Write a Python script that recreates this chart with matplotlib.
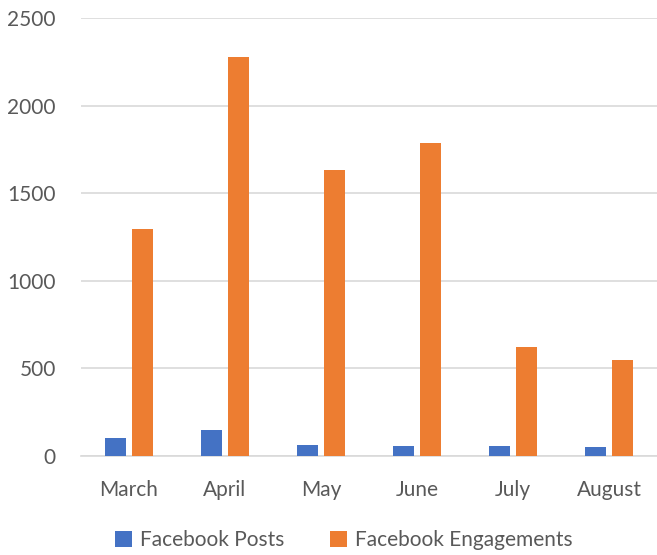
import matplotlib
matplotlib.use("Agg")
import matplotlib.pyplot as plt
import numpy as np

months = ["March", "April", "May", "June", "July", "August"]
posts = [100, 150, 63, 55, 55, 49]
engagements = [1295, 2275, 1634, 1785, 625, 549]
yticks = [0, 500, 1000, 1500, 2000, 2500]

plt.rcParams['font.family'] = ['Lato', 'DejaVu Sans']
text_color = "#595959"

fig = plt.figure(figsize=(6.57, 5.55), dpi=100)
ax = fig.add_axes([81/657, 1 - 456/555, 576/657, (456-18)/555])

x = np.arange(len(months))
w = 0.22
off = 0.14
ax.bar(x - off, posts, width=w, color="#4472C4", label="Facebook Posts", zorder=3)
ax.bar(x + off, engagements, width=w, color="#ED7D31", label="Facebook Engagements", zorder=3)

ax.set_xlim(-0.5, len(months) - 0.5)
ax.set_ylim(0, 2500)
ax.set_yticks(yticks)
ax.set_yticklabels([str(v) for v in yticks])
ax.set_xticks(x)
ax.set_xticklabels(months)
ax.yaxis.grid(True, color="#D9D9D9", linewidth=1.2, zorder=0)
ax.set_axisbelow(True)
for s in ["top", "right", "left"]:
    ax.spines[s].set_visible(False)
ax.spines["bottom"].set_color("#D9D9D9")
ax.spines["bottom"].set_linewidth(1.2)
ax.tick_params(axis="both", length=0, labelsize=15, colors=text_color)
ax.tick_params(axis="y", pad=18)
ax.tick_params(axis="x", pad=17)

leg = fig.legend(loc="center", bbox_to_anchor=(344/657, 1 - 540/555), ncol=2,
                 frameon=False, fontsize=15, handlelength=0.8, handleheight=0.8,
                 handletextpad=0.4, columnspacing=2.2)
for t in leg.get_texts():
    t.set_color(text_color)

fig.savefig("out.png", dpi=100)
